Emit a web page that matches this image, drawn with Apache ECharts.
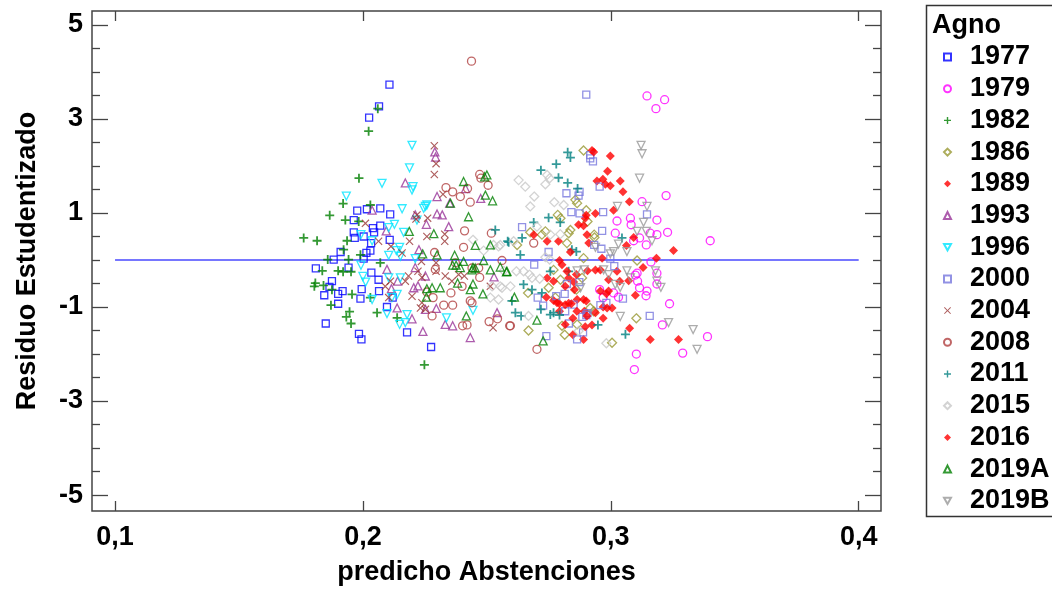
<!DOCTYPE html>
<html>
<head>
<meta charset="utf-8">
<script src="https://cdn.jsdelivr.net/npm/echarts@6/dist/echarts.min.js"></script>
<style>
  html, body { margin: 0; padding: 0; background: #fff; }
  #chart { width: 1052px; height: 591px; }
</style>
</head>
<body>
<div id="chart"></div>
<script>
// Studentized residuals against predicted abstention, one group per election
const groupNames = ['1977','1979','1982','1986','1989','1993','1996','2000','2004','2008','2011','2015','2016','2019A','2019B'];

const xTicks = [0.1, 0.2, 0.3, 0.4];
const yTicks = [5, 3, 1, -1, -3, -5];
const yMinorTicks = [4.5, 4, 3.5, 2.5, 2, 1.5, 0.5, 0, -0.5, -1.5, -2, -2.5, -3.5, -4, -4.5];
const zeroLine = [[0.1, 0], [0.4, 0]];

const s1977 = [
  [0.2107,3.73],[0.2065,3.27],[0.2025,3.03],[0.2070,1.10],[0.2016,1.08],[0.1977,1.05],[0.2110,0.97],
  [0.1963,0.85],[0.2040,0.68],[0.2045,0.59],[0.2070,0.73],[0.1963,0.59],[0.1967,0.47],[0.2108,0.43],
  [0.2033,0.36],[0.2030,0.20],[0.1910,0.17],[0.2014,0.15],[0.2003,0.03],[0.1882,0.01],[0.1810,-0.18],
  [0.1942,-0.16],[0.2034,-0.27],[0.1875,-0.45],[0.2063,-0.42],[0.1865,-0.57],[0.1918,-0.66],[0.1995,-0.62],
  [0.1900,-0.72],[0.1844,-0.75],[0.1990,-0.82],[0.2065,-0.66],[0.1900,-0.93],[0.2097,-1.00],[0.1850,-1.35],
  [0.2178,-1.54],[0.1984,-1.57],[0.1994,-1.69],[0.2275,-1.85],[0.2120,-0.80],[0.2003,0.50]
];
const s1979 = [
  [0.3146,3.49],[0.3217,3.41],[0.3182,3.22],[0.3223,1.37],[0.3126,1.24],[0.3025,0.83],[0.3079,0.89],
  [0.3082,0.75],[0.3186,0.85],[0.3018,0.57],[0.3159,0.57],[0.3186,0.54],[0.3229,0.59],[0.3092,0.41],
  [0.3116,0.47],[0.3143,0.32],[0.3162,-0.04],[0.3106,-0.28],[0.3099,-0.32],[0.3186,-0.28],[0.3108,-0.45],
  [0.3116,-0.59],[0.2955,-0.63],[0.2969,-0.80],[0.3031,-0.79],[0.3011,-0.70],[0.3146,-0.66],[0.3142,-0.76],
  [0.3186,-0.51],[0.3237,-0.93],[0.3208,-1.38],[0.3103,-2.00],[0.3095,-2.33],[0.3290,-1.98],[0.3401,0.41],
  [0.3390,-1.63]
];
const s1982 = [
  [0.2060,3.22],[0.2023,2.74],[0.1984,1.74],[0.1920,1.20],[0.2030,1.17],[0.1866,0.95],[0.1929,0.85],
  [0.1761,0.47],[0.1815,0.41],[0.1936,0.41],[0.1983,0.82],[0.1922,0.22],[0.1990,0.11],[0.1858,0.01],
  [0.1942,0.01],[0.2070,-0.06],[0.1836,-0.23],[0.1900,-0.23],[0.1920,-0.25],[0.1952,-0.25],[0.1808,-0.49],
  [0.1841,-0.54],[0.1804,-0.56],[0.1875,-0.63],[0.1956,-0.73],[0.2030,-0.80],[0.1871,-0.96],[0.1946,-1.10],
  [0.2057,-1.12],[0.1933,-1.21],[0.1952,-1.35],[0.2138,-1.23],[0.2248,-2.23]
];
const s1986 = [
  [0.2890,2.33],[0.2864,1.21],[0.2857,1.28],[0.2901,1.06],[0.2786,0.96],[0.2797,0.89],[0.2906,0.82],
  [0.2675,0.59],[0.2722,0.54],[0.2736,0.61],[0.2830,0.57],[0.2837,0.64],[0.2933,0.54],[0.2934,0.48],
  [0.2622,0.32],[0.2823,0.36],[0.2890,0.04],[0.3106,-0.01],[0.2769,-0.21],[0.2884,-0.38],[0.2797,-0.42],
  [0.2666,-0.70],[0.2749,-0.59],[0.2861,-0.63],[0.2776,-0.80],[0.2917,-1.02],[0.2931,-1.09],[0.2803,-1.40],
  [0.2814,-1.59],[0.2864,-1.37],[0.2668,-1.50],[0.3005,-1.76],[0.3103,-1.24]
];
const s1989 = [
  [0.2924,2.33],[0.2998,2.21],[0.2944,1.68],[0.2978,1.61],[0.3038,1.68],[0.3075,1.24],[0.2938,0.99],
  [0.2897,0.89],[0.2890,0.73],[0.2743,0.40],[0.2789,0.40],[0.2911,0.36],[0.3063,0.31],[0.3184,0.04],
  [0.2793,-0.01],[0.2906,-0.23],[0.2958,-0.21],[0.3025,-0.24],[0.3072,-0.44],[0.3099,-0.75],[0.2830,-0.38],
  [0.2853,-0.63],[0.2769,-0.86],[0.2793,-0.93],[0.2830,-0.92],[0.2864,-0.84],[0.2901,-0.87],[0.2893,-1.09],
  [0.2938,-1.12],[0.2982,-0.72],[0.2969,-1.00],[0.3005,-1.02],[0.2924,-1.38],[0.2890,-1.69],[0.3159,-1.69],
  [0.2743,-0.38],[0.2793,-1.09],[0.2847,-1.59],[0.2850,-0.47]
];
const s1993 = [
  [0.2290,2.30],[0.2293,2.19],[0.2171,1.64],[0.2299,1.35],[0.2350,1.21],[0.2037,1.06],[0.2299,0.98],
  [0.2320,0.96],[0.2211,0.96],[0.2256,0.76],[0.2346,0.71],[0.2094,0.62],[0.2226,0.22],[0.2211,-0.16],
  [0.2097,-0.20],[0.2252,-0.34],[0.2140,-0.45],[0.2222,-0.55],[0.2205,-0.59],[0.2115,-0.61],[0.2138,-1.02],
  [0.2198,-1.25],[0.2242,-1.52],[0.2332,-1.37],[0.2362,-1.40],[0.2433,-1.65],[0.2252,-1.05],[0.2296,-1.03],
  [0.2541,-1.12],[0.2529,-0.36],[0.2475,1.31],[0.2414,1.52]
];
const s1996 = [
  [0.2198,2.44],[0.2188,1.96],[0.2077,1.63],[0.2202,1.56],[0.2198,1.49],[0.1933,1.36],[0.2158,1.09],
  [0.2252,1.14],[0.2245,1.10],[0.2218,0.85],[0.2127,0.76],[0.2104,0.69],[0.2164,0.59],[0.1992,0.54],
  [0.2037,0.41],[0.2148,0.27],[0.2135,0.20],[0.2151,0.08],[0.2104,0.10],[0.1992,-0.11],[0.2211,0.03],
  [0.2000,-0.35],[0.2104,-0.38],[0.2151,-0.38],[0.2011,-0.47],[0.2138,-0.73],[0.2117,-0.80],[0.2037,-0.84],
  [0.2097,-1.14],[0.2178,-1.16],[0.2148,-1.37],[0.2171,-1.33],[0.2337,-1.23],[0.2444,-1.07],[0.2258,1.17]
];
const s2000 = [
  [0.2901,3.52],[0.2917,2.23],[0.2917,2.16],[0.2928,2.10],[0.2955,1.56],[0.2821,1.42],[0.2874,1.45],
  [0.2870,1.37],[0.2841,1.02],[0.2874,0.99],[0.2969,1.02],[0.3146,0.97],[0.2642,0.70],[0.2965,0.62],
  [0.2933,0.32],[0.2962,0.24],[0.2749,0.17],[0.2691,-0.10],[0.2998,0.03],[0.3014,-0.13],[0.2873,-0.47],
  [0.2823,-0.51],[0.2780,-0.77],[0.2705,-0.80],[0.2727,-0.97],[0.2814,-0.72],[0.2850,-0.95],[0.2901,-1.17],
  [0.2906,-1.13],[0.2885,-1.21],[0.2958,-0.96],[0.2982,-0.91],[0.2816,-1.09],[0.2831,-1.35],[0.2864,-1.69],
  [0.2888,-1.54],[0.2740,-1.62],[0.3049,-0.82],[0.3157,-1.19]
];
const s2004 = [
  [0.2288,2.43],[0.2295,2.05],[0.2288,1.82],[0.2323,1.40],[0.2010,0.78],[0.2063,0.40],[0.2218,0.96],
  [0.2214,0.87],[0.2261,0.89],[0.2330,0.55],[0.2330,0.40],[0.2188,0.40],[0.2113,0.29],[0.2158,0.15],
  [0.2258,0.50],[0.2236,-0.03],[0.2222,-0.24],[0.2238,-0.37],[0.2295,-0.06],[0.2295,-0.24],[0.2111,-0.45],
  [0.2090,-0.56],[0.2171,-0.45],[0.2184,-0.34],[0.2332,-0.34],[0.2104,-0.80],[0.2198,-0.77],[0.2238,-0.91],
  [0.2232,-1.02],[0.2252,-1.05],[0.2514,-0.56],[0.2525,-1.44],[0.2386,-0.31],[0.2409,-0.34],[0.2359,-0.45]
];
const s2008 = [
  [0.2438,4.23],[0.2471,1.82],[0.2476,1.74],[0.2505,1.59],[0.2335,1.54],[0.2362,1.45],[0.2422,1.52],
  [0.2393,1.35],[0.2433,1.23],[0.2410,0.62],[0.2406,0.27],[0.2518,0.57],[0.2289,0.16],[0.2561,-0.01],
  [0.2467,-0.17],[0.2440,-0.17],[0.2471,-0.37],[0.2292,-0.20],[0.2400,-0.56],[0.2355,-0.70],[0.2258,-0.68],
  [0.2283,-0.80],[0.2433,-0.87],[0.2440,-0.91],[0.2326,-0.96],[0.2362,-0.96],[0.2279,-1.19],[0.2402,-1.40],
  [0.2420,-1.38],[0.2509,-1.31],[0.2592,-1.40],[0.2689,0.36],[0.2595,-1.40],[0.2702,-1.90],[0.2373,-0.06],
  [0.2543,-1.25]
];
const s2011 = [
  [0.2826,2.29],[0.2837,2.18],[0.2780,2.04],[0.2718,1.91],[0.2789,1.75],[0.2826,1.64],[0.2866,1.52],
  [0.2749,0.90],[0.2689,0.80],[0.2796,0.80],[0.2642,0.47],[0.2588,0.38],[0.2635,0.11],[0.2843,0.22],
  [0.2861,0.18],[0.2756,-0.24],[0.2830,-0.24],[0.2648,-0.52],[0.2682,-0.63],[0.2722,-0.70],[0.2601,-0.87],
  [0.2615,-1.12],[0.2638,-1.19],[0.2756,-1.16],[0.2769,-1.12],[0.2793,-1.17],[0.2718,-1.05],[0.2948,-1.38],
  [0.3059,-1.58],[0.3045,0.47],[0.2534,0.64],[0.2584,0.40]
];
const s2015 = [
  [0.2628,1.70],[0.2655,1.56],[0.2743,1.81],[0.2753,1.74],[0.2736,1.61],[0.2691,1.35],[0.2675,1.14],
  [0.2772,1.23],[0.2810,1.17],[0.2702,0.71],[0.2756,0.54],[0.2796,0.55],[0.2554,0.32],[0.2608,0.40],
  [0.2736,0.06],[0.2753,0.01],[0.2568,-0.23],[0.2619,-0.24],[0.2648,-0.24],[0.2672,-0.31],[0.2682,-0.38],
  [0.2561,-0.59],[0.2595,-0.56],[0.2713,-0.40],[0.2668,-1.19],[0.2870,-1.51],[0.2982,-1.77],[0.2444,0.43],
  [0.2487,0.20],[0.2527,0.32],[0.2547,0.29],[0.2521,-0.56],[0.2554,-0.56],[0.2514,-0.80],[0.2547,-0.84]
];
const s2016 = [
  [0.2931,2.30],[0.2987,1.89],[0.2968,1.72],[0.2998,1.58],[0.3049,1.45],[0.3011,1.06],[0.2901,0.95],
  [0.2870,0.75],[0.2904,0.54],[0.2689,0.54],[0.2837,0.17],[0.3092,0.48],[0.3253,0.20],[0.2965,0.04],
  [0.2803,-0.10],[0.2938,-0.21],[0.2991,-0.42],[0.3036,-0.45],[0.3130,-0.16],[0.2823,-0.24],[0.2816,-0.56],
  [0.2740,-0.79],[0.2783,-0.91],[0.2816,-0.95],[0.2841,-0.93],[0.2890,-0.84],[0.2863,-1.09],[0.2904,-1.19],
  [0.2958,-0.66],[0.2991,-0.66],[0.2985,-1.02],[0.2847,-1.24],[0.2969,-1.24],[0.3076,-1.45],[0.3273,-1.69],
  [0.2769,-0.45],[0.2816,-1.37],[0.2897,-1.42],[0.2861,-0.31]
];
const s2019A = [
  [0.2500,1.81],[0.2491,1.77],[0.2406,1.67],[0.2494,1.38],[0.2523,1.26],[0.2353,1.21],[0.2426,0.92],
  [0.2286,0.56],[0.2187,0.61],[0.2453,0.31],[0.2514,0.32],[0.2370,0.10],[0.2241,0.13],[0.2299,0.11],
  [0.2362,-0.11],[0.2376,-0.11],[0.2393,-0.16],[0.2444,-0.16],[0.2453,-0.17],[0.2440,-0.21],[0.2487,-0.01],
  [0.2514,-0.21],[0.2554,-0.15],[0.2581,-0.24],[0.2406,-0.03],[0.2258,-0.61],[0.2279,-0.59],[0.2312,-0.59],
  [0.2382,-0.49],[0.2444,-0.51],[0.2484,-0.72],[0.2433,-0.63],[0.2417,-1.19],[0.2256,-0.79],[0.2579,-0.25],
  [0.2611,-0.79],[0.2702,-1.28],[0.2727,-1.72]
];
const s2019B = [
  [0.3122,2.44],[0.3126,2.26],[0.3116,1.74],[0.3027,1.14],[0.3146,1.14],[0.3132,0.80],[0.3143,0.61],
  [0.3166,0.41],[0.3106,0.61],[0.3031,0.34],[0.3065,0.18],[0.3011,0.18],[0.2998,0.13],[0.2893,-0.21],
  [0.2864,-0.23],[0.2971,-0.21],[0.2991,-0.31],[0.3065,-0.23],[0.3079,-0.38],[0.3018,-0.52],[0.3038,-0.58],
  [0.3180,-0.23],[0.3186,-0.45],[0.3202,-0.58],[0.2878,-0.59],[0.3038,-1.20],[0.3233,-1.33],[0.3332,-1.48],
  [0.3348,-1.90],[0.2938,0.27]
];

const groupData = [s1977, s1979, s1982, s1986, s1989, s1993, s1996, s2000, s2004, s2008, s2011, s2015, s2016, s2019A, s2019B];

// marker shapes
const PLUS = 'path://M4,0H6V4H10V6H6V10H4V6H0V4H4Z';
const CROSS = 'path://M1,0L5,4L9,0L10,1L6,5L10,9L9,10L5,6L1,10L0,9L4,5L0,1Z';
const DOWN = 'path://M0,0L10,0L5,9Z';

// [symbol, size, colour, hollow]
const markerStyle = [
  ['rect', 7, '#0000ff', true],
  ['circle', 8, '#ff00ff', true],
  [PLUS, 9, '#008000', false],
  ['diamond', 9, '#999933', true],
  ['diamond', 9, '#ff0000', false],
  ['triangle', 8, '#993399', true],
  [DOWN, 8, '#00e5ff', true],
  ['rect', 7, '#7777dd', true],
  [CROSS, 8, '#993333', false],
  ['circle', 8, '#b04040', true],
  [PLUS, 9, '#008080', false],
  ['diamond', 9, '#c8c8c8', true],
  ['diamond', 9, '#ff0000', false],
  ['triangle', 8, '#008000', true],
  [DOWN, 8, '#999999', true]
];

const FONT = '"Liberation Sans", Arial, Helvetica, sans-serif';
const AX = '#444';

const scatterSeries = groupNames.map((name, i) => {
  const [symbol, size, color, hollow] = markerStyle[i];
  return {
    name: name,
    type: 'scatter',
    data: groupData[i],
    symbol: symbol,
    symbolSize: size,
    xAxisIndex: 0,
    yAxisIndex: 0,
    itemStyle: hollow
      ? { color: 'rgba(0,0,0,0)', borderColor: color, borderWidth: 1.3 }
      : { color: color, borderWidth: 0 },
    emphasis: { disabled: true },
    z: 3
  };
});

const chart = echarts.init(document.getElementById('chart'), null, { renderer: 'canvas' });

const noLine = { show: false, onZero: false };
const yBase = { type: 'value', min: -5.339, max: 5.297, splitLine: { show: false }, axisLine: noLine };
const xBase = { type: 'value', min: 0.0907, max: 0.409, splitLine: { show: false }, axisLine: noLine };

chart.setOption({
  animation: false,
  backgroundColor: '#fff',
  grid: {
    left: 92, top: 11, width: 789, height: 502,
    show: true, borderColor: AX, borderWidth: 1.5, backgroundColor: 'rgba(0,0,0,0)'
  },
  xAxis: [
    Object.assign({}, xBase, {
      position: 'bottom',
      name: 'predicho Abstenciones',
      nameLocation: 'middle',
      nameGap: 48,
      nameTextStyle: { fontFamily: FONT, fontWeight: 'bold', fontSize: 27, color: '#000' },
      axisTick: { show: true, inside: true, length: 10, customValues: xTicks, lineStyle: { color: AX, width: 1.3 } },
      axisLabel: {
        show: true, customValues: xTicks, margin: 13,
        fontFamily: FONT, fontWeight: 'bold', fontSize: 27, color: '#000',
        formatter: v => v.toFixed(1).replace('.', ',')
      }
    }),
    Object.assign({}, xBase, {
      position: 'top',
      axisTick: { show: true, inside: true, length: 10, customValues: xTicks, lineStyle: { color: AX, width: 1.3 } },
      axisLabel: { show: false }
    })
  ],
  yAxis: [
    Object.assign({}, yBase, {
      position: 'left',
      name: 'Residuo Estudentizado',
      nameLocation: 'middle',
      nameGap: 51,
      nameTextStyle: { fontFamily: FONT, fontWeight: 'bold', fontSize: 27, color: '#000' },
      axisTick: { show: true, inside: true, length: 16, customValues: yTicks, lineStyle: { color: AX, width: 1.3 } },
      axisLabel: {
        show: true, customValues: yTicks, margin: 9,
        fontFamily: FONT, fontWeight: 'bold', fontSize: 27, color: '#000'
      }
    }),
    Object.assign({}, yBase, {
      position: 'left',
      axisTick: { show: true, inside: true, length: 8, customValues: yMinorTicks, lineStyle: { color: AX, width: 1.3 } },
      axisLabel: { show: false }
    }),
    Object.assign({}, yBase, {
      position: 'right',
      axisTick: { show: true, inside: true, length: 16, customValues: yTicks, lineStyle: { color: AX, width: 1.3 } },
      axisLabel: { show: false }
    }),
    Object.assign({}, yBase, {
      position: 'right',
      axisTick: { show: true, inside: true, length: 8, customValues: yMinorTicks, lineStyle: { color: AX, width: 1.3 } },
      axisLabel: { show: false }
    })
  ],
  legend: {
    data: groupNames,
    orient: 'vertical',
    left: 943,
    top: 43,
    padding: 0,
    itemWidth: 7,
    itemHeight: 7,
    itemGap: 3.7,
    selectedMode: false,
    textStyle: {
      fontFamily: FONT, fontWeight: 'bold', fontSize: 27, color: '#000',
      lineHeight: 28, padding: [0, 0, 0, 14]
    }
  },
  graphic: [
    {
      type: 'rect', silent: true,
      shape: { x: 926.5, y: 5.5, width: 140, height: 511 },
      style: { fill: 'rgba(0,0,0,0)', stroke: '#333', lineWidth: 1.5 }
    },
    {
      type: 'text', silent: true,
      style: { x: 932, y: 26, text: 'Agno', fontFamily: FONT, fontWeight: 'bold', fontSize: 27, fill: '#000', verticalAlign: 'middle' }
    }
  ],
  series: [
    {
      name: 'ref0',
      type: 'line',
      data: zeroLine,
      symbol: 'none',
      lineStyle: { color: '#4848ff', width: 1.5 },
      xAxisIndex: 0, yAxisIndex: 0,
      silent: true,
      z: 2
    }
  ].concat(scatterSeries)
});
</script>
</body>
</html>
